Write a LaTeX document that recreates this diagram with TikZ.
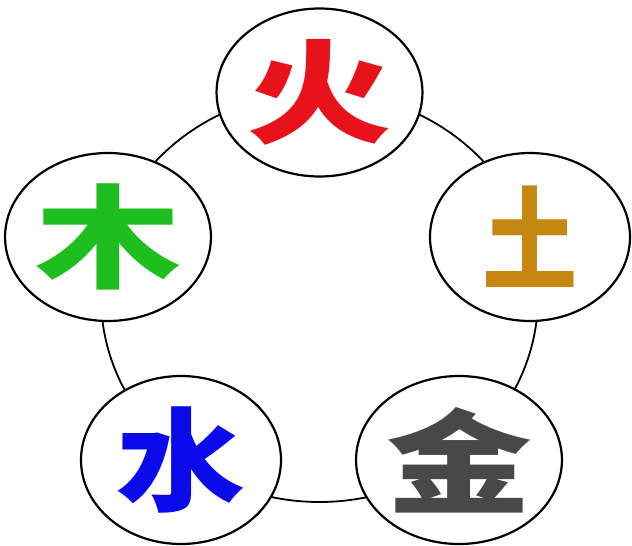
\documentclass[tikz,border=0pt]{standalone}
\usepackage{fontspec}
\newfontfamily\cjk{Noto Sans CJK SC}
\usetikzlibrary{shapes.geometric}

\definecolor{firered}{RGB}{232,18,26}
\definecolor{earthochre}{RGB}{198,134,18}
\definecolor{metalgrey}{RGB}{72,72,72}
\definecolor{waterblue}{RGB}{10,10,235}
\definecolor{woodgreen}{RGB}{30,190,30}
\newcommand{\widechar}[2][1.3]{\scalebox{#1}[1]{#2}}

\begin{document}
\begin{tikzpicture}[x=1pt,y=-1pt,
  element/.style={draw,ellipse,fill=white,line width=2.2pt,
    minimum width=200pt,minimum height=168pt,inner sep=0pt,
    font=\cjk\bfseries\fontsize{112}{112}\selectfont}]
  \useasboundingbox (0,0) rectangle (632,546);
  % the ring behind the five elements
  \coordinate (centre) at (319.5,297);
  \draw[line width=1.8pt] (centre) ellipse [x radius=218.5, y radius=205];
  % the elements
  \node[element,text=firered] (fire) at (319.5,92.5) {\widechar{火}};
  \node[element,text=earthochre] (earth) at (530,237) {\widechar[0.85]{土}};
  \node[element,text=metalgrey] (metal) at (459,460) {\widechar{金}};
  \node[element,text=waterblue] (water) at (181,460) {\widechar[1.15]{水}};
  \node[element,text=woodgreen] (wood) at (108,237) {\widechar{木}};
\end{tikzpicture}
\end{document}
